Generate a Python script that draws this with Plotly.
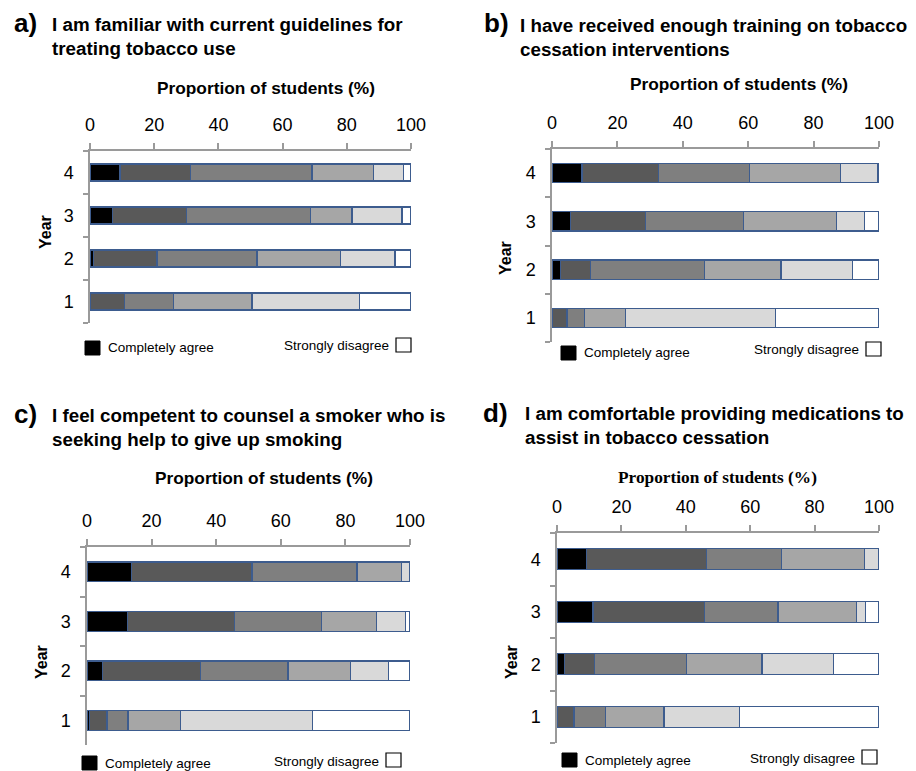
import plotly.graph_objects as go

W, H = 916, 771

years = ["1", "2", "3", "4"]
levels = ["Completely agree", "Agree", "Slightly agree", "Slightly disagree", "Disagree", "Strongly disagree"]
colors = ["#000000", "#595959", "#7f7f7f", "#a6a6a6", "#d9d9d9", "#ffffff"]

# proportions (%) per response level, ordered Year 1..4
a_vals = [
    [0.0, 1.0, 7.0, 9.3],
    [10.7, 19.9, 23.1, 21.9],
    [15.4, 31.1, 38.6, 38.0],
    [24.4, 26.1, 12.9, 19.1],
    [33.4, 16.9, 15.6, 9.4],
    [16.1, 5.0, 2.8, 2.3],
]
b_vals = [
    [0.0, 2.5, 5.6, 9.2],
    [4.6, 9.2, 22.9, 23.4],
    [5.4, 35.0, 30.1, 27.7],
    [12.5, 23.3, 28.5, 27.9],
    [45.8, 21.8, 8.4, 11.5],
    [31.7, 8.2, 4.5, 0.3],
]
c_vals = [
    [0.7, 4.9, 12.6, 13.7],
    [5.5, 30.2, 33.0, 37.4],
    [6.5, 27.1, 27.1, 32.5],
    [16.3, 19.3, 17.0, 13.8],
    [40.9, 11.8, 8.8, 2.4],
    [30.1, 6.7, 1.5, 0.2],
]
d_vals = [
    [0.0, 2.4, 11.2, 9.2],
    [5.3, 9.2, 34.5, 37.3],
    [9.7, 28.6, 22.9, 23.3],
    [18.2, 23.5, 24.4, 25.6],
    [23.5, 22.1, 2.7, 4.6],
    [43.3, 14.2, 4.3, 0.0],
]

tick_vals = [0, 20, 40, 60, 80, 100]
tick_text = ["0", "20", "40", "60", "80", "100"]

letters = ["a)", "b)", "c)", "d)"]
titles = [
    "I am familiar with current guidelines for<br>treating tobacco use",
    "I have received enough training on tobacco<br>cessation interventions",
    "I feel competent to counsel a smoker who is<br>seeking help to give up smoking",
    "I am comfortable providing medications to<br>assist in tobacco cessation",
]
x_title = "Proportion of students (%)"
y_title = "Year"
legend_left = "Completely agree"
legend_right = "Strongly disagree"

SANS = "Liberation Sans, Arial, Helvetica, sans-serif"
SERIF = "Liberation Serif, Times New Roman, serif"

# layout geometry in pixels
panels = [
    dict(data=a_vals, box=(90, 411, 151, 323), letter=(12, 23), title=(50, 36),
         xt=(266, 88), yt=(45, 232), leg=(85, 348, 411, 346), xfont=SANS),
    dict(data=b_vals, box=(552, 879, 149, 342), letter=(482, 23), title=(518, 37),
         xt=(739, 84), yt=(506, 258), leg=(561, 353, 881, 350), xfont=SANS),
    dict(data=c_vals, box=(87, 410, 547, 745), letter=(12, 414), title=(50, 427),
         xt=(264, 478), yt=(41, 662), leg=(82, 763, 401, 761), xfont=SANS),
    dict(data=d_vals, box=(557, 879, 533, 743), letter=(481, 413), title=(523, 425),
         xt=(717, 477), yt=(511, 662), leg=(562, 760, 877, 758), xfont=SERIF),
]


def fx(px):
    return px / W


def fy(py):
    return 1 - py / H


fig = go.Figure()
layout = dict(width=W, height=H, margin=dict(l=0, r=0, t=0, b=0, pad=0, autoexpand=False),
              paper_bgcolor="white", plot_bgcolor="white", barmode="stack",
              showlegend=False, font=dict(family=SANS, color="black"))
annotations = []
shapes = []

for i, p in enumerate(panels):
    sfx = "" if i == 0 else str(i + 1)
    xa, ya = "x" + sfx, "y" + sfx
    for lv in range(len(levels)):
        fig.add_trace(go.Bar(
            x=p["data"][lv], y=years, orientation="h", name=levels[lv],
            marker=dict(color=colors[lv], line=dict(color="#3d5c8e", width=1.3)),
            width=0.4, xaxis=xa, yaxis=ya, hoverinfo="x+y+name",
        ))
    x0, x1, y0, y1 = p["box"]
    layout["xaxis" + sfx] = dict(
        domain=[fx(x0), fx(x1)], anchor=ya, side="top", range=[0, 100],
        tickvals=tick_vals, ticktext=tick_text, ticks="outside", ticklen=6,
        tickcolor="#9a9a9a", tickwidth=1.5, showline=True, linecolor="#9a9a9a",
        linewidth=1.5, showgrid=False, zeroline=False, fixedrange=True,
        automargin=False,
        tickfont=dict(size=18, family=SANS, color="black"), ticklabelstandoff=5,
    )
    layout["yaxis" + sfx] = dict(
        domain=[fy(y1), fy(y0)], anchor=xa, type="category",
        categoryorder="array", categoryarray=years, tickson="boundaries",
        ticks="outside", ticklen=5, tickcolor="#9a9a9a", tickwidth=1.5,
        showline=True, linecolor="#9a9a9a", linewidth=1.5, showgrid=False,
        zeroline=False, fixedrange=True, automargin=False,
        tickfont=dict(size=18, family=SANS, color="black"), ticklabelstandoff=11,
    )
    annotations.append(dict(text="<b>" + letters[i] + "</b>", x=fx(p["letter"][0]),
                            y=fy(p["letter"][1]), xref="paper", yref="paper",
                            xanchor="left", yanchor="middle", showarrow=False,
                            font=dict(size=26, family=SANS)))
    annotations.append(dict(text="<b>" + titles[i] + "</b>", x=fx(p["title"][0]),
                            y=fy(p["title"][1]), xref="paper", yref="paper",
                            xanchor="left", yanchor="middle", align="left",
                            showarrow=False, font=dict(size=18.8, family=SANS)))
    annotations.append(dict(text="<b>" + x_title + "</b>", x=fx(p["xt"][0]),
                            y=fy(p["xt"][1]), xref="paper", yref="paper",
                            xanchor="center", yanchor="middle", showarrow=False,
                            font=dict(size=17.3, family=p["xfont"])))
    annotations.append(dict(text="<b>" + y_title + "</b>", x=fx(p["yt"][0]),
                            y=fy(p["yt"][1]), xref="paper", yref="paper",
                            xanchor="center", yanchor="middle", textangle=-90,
                            showarrow=False, font=dict(size=16, family=SANS)))
    lx, ly, rx, ry = p["leg"]
    shapes.append(dict(type="rect", xref="paper", yref="paper",
                       x0=fx(lx), x1=fx(lx + 15), y0=fy(ly + 7), y1=fy(ly - 7),
                       fillcolor=colors[0], line=dict(color="black", width=1)))
    annotations.append(dict(text=legend_left, x=fx(lx + 21), y=fy(ly),
                            xref="paper", yref="paper", xanchor="left",
                            yanchor="middle", showarrow=False,
                            font=dict(size=13.5, family=SANS)))
    shapes.append(dict(type="rect", xref="paper", yref="paper",
                       x0=fx(rx - 15), x1=fx(rx), y0=fy(ry + 6), y1=fy(ry - 8),
                       fillcolor=colors[5], line=dict(color="black", width=1.2)))
    annotations.append(dict(text=legend_right, x=fx(rx - 20), y=fy(ry),
                            xref="paper", yref="paper", xanchor="right",
                            yanchor="middle", showarrow=False,
                            font=dict(size=13.5, family=SANS)))

layout["annotations"] = annotations
layout["shapes"] = shapes
fig.update_layout(**layout)
fig.write_html("out.html", config={"displayModeBar": False},
               post_script="document.body.style.margin='0';document.body.style.overflow='hidden';")
